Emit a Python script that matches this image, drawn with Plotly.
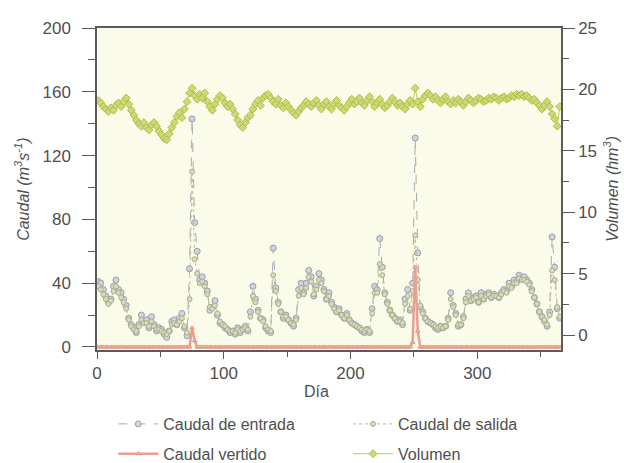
import plotly.graph_objects as go

# Daily series sampled every second day (days 1, 3, ..., 365)
DAYS = list(range(1, 366, 2))

caudal_entrada = [
    41, 40, 36, 32, 28, 30, 38, 42, 36, 34, 30, 26, 18, 14, 12, 9, 14, 20, 16, 17,
    12, 19, 14, 10, 12, 11, 8, 6, 10, 16, 17, 14, 18, 21, 12, 7, 49, 143, 78, 60,
    42, 44, 40, 35, 23, 25, 29, 20, 15, 14, 12, 11, 9, 10, 8, 12, 9, 11, 13, 10,
    22, 38, 30, 23, 18, 17, 12, 10, 9, 62, 37, 28, 22, 18, 20, 17, 15, 13, 18, 36,
    40, 34, 40, 48, 44, 32, 38, 46, 42, 36, 30, 34, 28, 25, 22, 24, 20, 18, 21, 17,
    15, 14, 13, 12, 10, 9, 11, 9, 24, 38, 36, 68, 50, 34, 28, 23, 20, 18, 16, 17,
    14, 30, 36, 23, 40, 131, 59, 25, 22, 18, 16, 15, 14, 12, 11, 13, 12, 13, 18, 34,
    26, 21, 13, 14, 19, 30, 34, 29, 31, 32, 28, 34, 30, 33, 34, 31, 33, 32, 31, 34,
    36, 35, 40, 38, 42, 41, 45, 43, 44, 42, 40, 36, 31, 27, 22, 19, 16, 13, 22, 69,
    50, 24, 18,
]

caudal_salida = [
    38, 36, 33, 30, 27, 29, 35, 38, 34, 31, 28, 24, 17, 13, 11, 10, 13, 17, 15, 15,
    13, 16, 13, 11, 11, 10, 9, 8, 10, 14, 15, 14, 16, 18, 13, 9, 30, 110, 55, 46,
    40, 41, 38, 33, 25, 24, 26, 21, 16, 14, 13, 11, 10, 10, 9, 11, 10, 11, 12, 11,
    19, 32, 28, 22, 18, 16, 13, 11, 10, 45, 35, 27, 22, 19, 19, 17, 15, 14, 17, 32,
    37, 33, 37, 44, 41, 33, 36, 42, 40, 35, 30, 32, 27, 24, 22, 23, 20, 18, 20, 17,
    15, 14, 13, 12, 11, 10, 11, 10, 21, 34, 34, 52, 45, 33, 27, 23, 20, 18, 16, 16,
    15, 27, 32, 24, 35, 70, 42, 26, 21, 18, 16, 15, 14, 13, 12, 13, 12, 13, 17, 30,
    25, 20, 14, 14, 18, 28, 32, 29, 30, 31, 28, 32, 30, 32, 33, 31, 32, 32, 31, 33,
    35, 34, 38, 37, 40, 40, 43, 42, 42, 41, 39, 35, 31, 27, 22, 19, 17, 14, 20, 48,
    42, 25, 19,
]

caudal_vertido = [
    0, 0, 0, 0, 0, 0, 0, 0, 0, 0, 0, 0, 0, 0, 0, 0, 0, 0, 0, 0,
    0, 0, 0, 0, 0, 0, 0, 0, 0, 0, 0, 0, 0, 0, 0, 0, 0, 12, 4, 0,
    0, 0, 0, 0, 0, 0, 0, 0, 0, 0, 0, 0, 0, 0, 0, 0, 0, 0, 0, 0,
    0, 0, 0, 0, 0, 0, 0, 0, 0, 0, 0, 0, 0, 0, 0, 0, 0, 0, 0, 0,
    0, 0, 0, 0, 0, 0, 0, 0, 0, 0, 0, 0, 0, 0, 0, 0, 0, 0, 0, 0,
    0, 0, 0, 0, 0, 0, 0, 0, 0, 0, 0, 0, 0, 0, 0, 0, 0, 0, 0, 0,
    0, 0, 0, 0, 3, 50, 10, 0, 0, 0, 0, 0, 0, 0, 0, 0, 0, 0, 0, 0,
    0, 0, 0, 0, 0, 0, 0, 0, 0, 0, 0, 0, 0, 0, 0, 0, 0, 0, 0, 0,
    0, 0, 0, 0, 0, 0, 0, 0, 0, 0, 0, 0, 0, 0, 0, 0, 0, 0, 0, 0,
    0, 0, 0,
]

volumen = [
    19.1, 18.9, 18.6, 18.4, 18.2, 18.5, 18.3, 18.7, 18.9, 18.6,
    19.0, 19.3, 18.8, 18.3, 17.9, 17.5, 17.2, 17.0, 17.3, 16.9,
    16.7, 17.1, 17.3, 17.0, 16.6, 16.3, 16.0, 15.9, 16.4, 16.9,
    17.3, 17.8, 18.1, 17.7, 18.4, 19.0, 19.7, 20.1, 19.5, 19.2,
    19.6, 19.3, 19.7, 19.0, 18.6, 18.3, 18.8, 19.2, 19.5, 19.3,
    18.9, 18.6, 18.8, 18.4, 18.0, 17.5, 17.1, 16.9, 17.3, 17.7,
    17.9, 18.4, 18.8, 19.1, 18.7, 19.3, 19.5, 19.6, 19.3, 19.0,
    18.8, 19.2, 18.7, 18.5, 18.9, 18.6, 18.3, 18.1, 17.9, 18.2,
    18.5, 18.7, 19.0, 18.8, 18.6, 18.9, 19.1, 18.7, 18.4, 18.8,
    19.0, 18.6, 18.4, 18.8, 19.1, 18.7, 18.5, 18.3, 18.6, 18.9,
    19.2, 18.8, 19.0, 19.3, 18.9, 18.7, 19.1, 19.4, 19.0, 18.6,
    18.9, 19.2, 18.8, 18.5, 18.7, 19.0, 19.3, 19.0, 18.7, 18.9,
    18.6, 18.4, 18.8, 19.1, 18.8, 20.1, 19.0, 18.6, 19.2, 19.5,
    19.7, 19.5, 19.2, 19.4, 19.1, 18.9, 19.2, 19.4, 19.0, 18.8,
    19.1, 18.9, 19.2, 19.0, 18.7, 19.0, 19.3, 19.1, 18.9, 19.1,
    19.3, 19.2, 19.0, 19.1, 19.3, 19.2, 19.4, 19.3, 19.1, 19.3,
    19.4, 19.2, 19.3, 19.5, 19.4, 19.6, 19.5, 19.6, 19.4, 19.5,
    19.3, 19.1, 19.2, 18.9, 18.7, 18.4, 18.7, 19.0, 18.6, 18.0,
    17.6, 17.0, 18.6,
]

for series in (caudal_entrada, caudal_salida, caudal_vertido, volumen):
    assert len(series) == len(DAYS), len(series)

FONT = "Liberation Sans, Arial, sans-serif"
TEXT = "#4f4f4f"
AXIS = "#5a5a5a"

fig = go.Figure()

fig.add_trace(go.Scatter(
    x=DAYS, y=caudal_entrada, name="Caudal de entrada", mode="lines+markers",
    legend="legend", legendgroup="entrada",
    line=dict(color="#a9a9b4", width=1, dash="dash"),
    marker=dict(symbol="circle", size=6, color="#d3d3de",
                line=dict(color="#9c9cab", width=1)),
))
fig.add_trace(go.Scatter(
    x=DAYS, y=caudal_salida, name="Caudal de salida", mode="lines+markers",
    legend="legend2", legendgroup="salida",
    line=dict(color="#b9bd8c", width=1, dash="dot"),
    marker=dict(symbol="circle", size=5, color="#d8dbbf",
                line=dict(color="#a9ae88", width=1)),
))
fig.add_trace(go.Scatter(
    x=DAYS, y=caudal_vertido, name="Caudal vertido", mode="lines+markers",
    legend="legend", legendgroup="vertido",
    line=dict(color="#eb9f8f", width=2.5),
    marker=dict(symbol="triangle-up", size=4, color="#f3c2b6",
                line=dict(color="#e48f7e", width=1)),
))
fig.add_trace(go.Scatter(
    x=DAYS, y=volumen, name="Volumen", mode="lines+markers", yaxis="y2",
    legend="legend2", legendgroup="volumen",
    line=dict(color="#bccb58", width=1),
    marker=dict(symbol="diamond", size=6, color="#cdd977",
                line=dict(color="#aebd45", width=1)),
))

legend_style = dict(
    orientation="v", yanchor="top", y=-0.177, xanchor="left",
    font=dict(size=16, color=TEXT), bgcolor="rgba(0,0,0,0)",
    tracegroupgap=6, itemwidth=40,
)

fig.update_layout(
    width=624, height=463,
    margin=dict(l=97, r=63, t=28, b=113, autoexpand=False),
    paper_bgcolor="white",
    plot_bgcolor="#fbfbe9",
    font=dict(family=FONT, size=17, color=TEXT),
    showlegend=True,
    legend=dict(x=0.035, **legend_style),
    legend2=dict(x=0.541, **legend_style),
    xaxis=dict(
        range=[0, 366], tickvals=[0, 100, 200, 300], ticks="outside",
        ticklen=7, tickcolor=AXIS, showline=True, linecolor=AXIS, linewidth=1.5,
        mirror=True, showgrid=False, zeroline=False,
        minor=dict(tickvals=[50, 150, 250, 350], ticks="outside", ticklen=5,
                   tickcolor=AXIS, showgrid=False),
        tickfont=dict(size=17, color=TEXT),
    ),
    yaxis=dict(
        range=[-1.9, 200], tickvals=[0, 40, 80, 120, 160, 200], ticks="outside",
        ticklen=13, tickcolor=AXIS, showline=True, linecolor=AXIS, linewidth=1.5,
        showgrid=False, zeroline=False, ticklabelstandoff=8,
        minor=dict(tickvals=[20, 60, 100, 140, 180], ticks="outside", ticklen=7,
                   tickcolor=AXIS, showgrid=False),
        tickfont=dict(size=17, color=TEXT),
    ),
    yaxis2=dict(
        overlaying="y", side="right", range=[-1.22, 25],
        tickvals=[0, 5, 10, 15, 20, 25], ticks="outside", ticklen=12,
        tickcolor=AXIS, showline=True, linecolor=AXIS, linewidth=1.5,
        showgrid=False, zeroline=False, ticklabelstandoff=0,
        minor=dict(tickvals=[2.5, 7.5, 12.5, 17.5, 22.5], ticks="outside",
                   ticklen=6, tickcolor=AXIS, showgrid=False),
        tickfont=dict(size=17, color=TEXT),
    ),
    annotations=[
        dict(text="<i>Caudal (m<sup>3</sup>s<sup>-1</sup>)</i>", textangle=-90,
             xref="paper", yref="paper", x=-0.162, y=0.5, xanchor="center",
             yanchor="middle", showarrow=False, font=dict(size=16, color=TEXT)),
        dict(text="<i>Volumen (hm<sup>3</sup>)</i>", textangle=-90,
             xref="paper", yref="paper", x=1.108, y=0.5, xanchor="center",
             yanchor="middle", showarrow=False, font=dict(size=16, color=TEXT)),
        dict(text="Día", xref="paper", yref="paper", x=0.474, y=-0.13,
             xanchor="center", yanchor="middle", showarrow=False,
             font=dict(size=16, color=TEXT)),
    ],
)

fig.write_html("out.html")
